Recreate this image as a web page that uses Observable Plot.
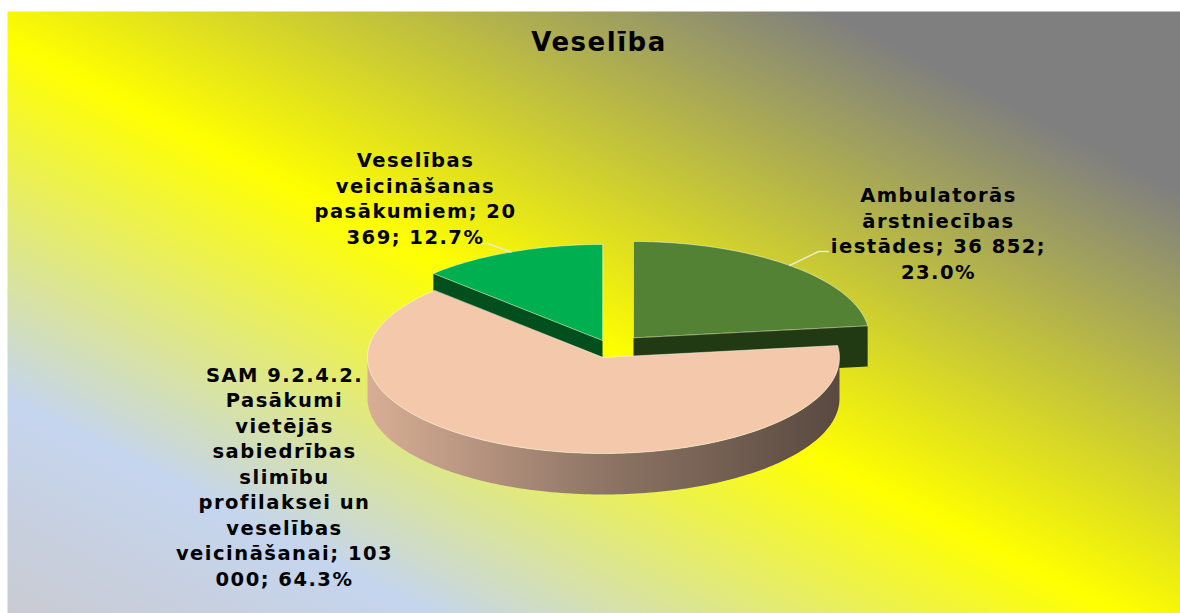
<!DOCTYPE html>
<html><head><meta charset="utf-8">
<script src="https://cdn.jsdelivr.net/npm/d3@7"></script>
<script src="https://cdn.jsdelivr.net/npm/@observablehq/plot@0.6"></script>
<style>
html,body{margin:0;padding:0;background:#fff;}
#chart svg text{letter-spacing:1.5px;}
</style></head><body><div id="chart"></div>
<script>
// ---- data ----
const title = "Veselība";
const categories = [
  "Ambulatorās ārstniecības iestādes",
  "SAM 9.2.4.2. Pasākumi vietējās sabiedrības slimību profilaksei un veselības veicināšanai",
  "Veselības veicināšanas pasākumiem"
];
const values = [36852, 103000, 20369];
const labels = [
  "Ambulatorās\nārstniecības\niestādes; 36 852;\n23.0%",
  "SAM 9.2.4.2.\nPasākumi\nvietējās\nsabiedrības\nslimību\nprofilaksei un\nveselības\nveicināšanai; 103\n000; 64.3%",
  "Veselības\nveicināšanas\npasākumiem; 20\n369; 12.7%"
];
const topColors = ["#548235", "#f4c9ab", "#00b050"];
const sideColors = ["#213a13", "url(#samSide)", "#004f1d"];

// ---- layout (style) ----
const W = 1180, H = 613;
const cx = 603, cy = 357, rx = 236, ry = 96, depth = 41;
const explode = [[30, -20], [0, 0], [-1, -17]];
const labelOffset = [[335, -125], [-319, 118], [-188, -160]]; // label centre relative to pie centre
const leaderTail = [[[215, -106], [225, -106]], null, [[-116, -114], [-124, -114]]];

const pie = d3.pie().sort(null).startAngle(0).endAngle(2 * Math.PI)(values);
const P = (i, a, dz = 0) => ({x: cx + explode[i][0] + rx * Math.sin(a), y: cy + explode[i][1] - ry * Math.cos(a) + dz});
const arcPts = (i, a0, a1, dz = 0) => {
  const n = Math.max(2, Math.ceil((a1 - a0) / 0.02));
  return d3.range(n + 1).map(k => P(i, a0 + (a1 - a0) * k / n, dz));
};

const polys = [];
const order = d3.range(values.length).sort((a, b) =>
  -Math.cos((pie[a].startAngle + pie[a].endAngle) / 2) + Math.cos((pie[b].startAngle + pie[b].endAngle) / 2));
for (const i of order) {
  const {startAngle: a0, endAngle: a1} = pie[i];
  const apex = {x: cx + explode[i][0], y: cy + explode[i][1]};
  const apexB = {x: apex.x, y: apex.y + depth};
  // cut faces
  if (Math.sin(a0) < -1e-6) polys.push({fill: sideColors[i], pts: [apex, P(i, a0), P(i, a0, depth), apexB]});
  if (Math.sin(a1) > 1e-6) polys.push({fill: sideColors[i], pts: [apex, P(i, a1), P(i, a1, depth), apexB]});
  // outer side (front half)
  const s0 = Math.max(a0, Math.PI / 2), s1 = Math.min(a1, 3 * Math.PI / 2);
  if (s1 > s0) polys.push({fill: sideColors[i], pts: [...arcPts(i, s0, s1), ...arcPts(i, s0, s1, depth).reverse()]});
  // top face
  polys.push({fill: topColors[i], stroke: "rgba(255,255,255,0.45)", pts: [apex, ...arcPts(i, a0, a1)]});
}

const labelRows = labels.map((t, i) => ({text: t, x: cx + labelOffset[i][0], y: cy + labelOffset[i][1]}));
const leaders = [];
leaderTail.forEach((tail, i) => {
  if (!tail) return;
  const mid = (pie[i].startAngle + pie[i].endAngle) / 2;
  leaders.push([P(i, mid), ...tail.map(([dx, dy]) => ({x: cx + dx, y: cy + dy}))]);
});

const marks = [
  Plot.frame({fill: "url(#bg)", stroke: "none"}),
  ...polys.map(p => Plot.line(p.pts, {x: "x", y: "y", curve: "linear-closed", fill: p.fill,
    stroke: p.stroke || "none", strokeWidth: 1})),
  ...leaders.map(l => Plot.line(l, {x: "x", y: "y", stroke: "#ecebc4", strokeWidth: 1.5})),
  Plot.text(labelRows, {x: "x", y: "y", text: "text", fontFamily: "DejaVu Sans", fontWeight: "bold",
    fontSize: 19.5, lineHeight: 1.31, fill: "#000", textAnchor: "middle"}),
  Plot.text([title], {frameAnchor: "top", dy: 21, dx: 5, text: d => d, fontFamily: "DejaVu Sans",
    fontWeight: "bold", fontSize: 26, fill: "#000"})
];

const svg = Plot.plot({
  width: W, height: H,
  marginTop: 11, marginLeft: 7, marginRight: 0, marginBottom: 0,
  x: {domain: [7, W], axis: null},
  y: {domain: [H, 11], axis: null},
  style: {background: "transparent"},
  marks
});
svg.insertAdjacentHTML("afterbegin", `<defs>
  <linearGradient id="bg" x1="0" y1="1" x2="1" y2="0">
    <stop offset="0" stop-color="#c9cbd2"/>
    <stop offset="0.18" stop-color="#c5d5ee"/>
    <stop offset="0.475" stop-color="#ffff00"/>
    <stop offset="0.85" stop-color="#7f7f7f"/>
    <stop offset="1" stop-color="#7f7f7f"/>
  </linearGradient>
  <linearGradient id="samSide" x1="0" y1="0" x2="1" y2="0">
    <stop offset="0" stop-color="#d8ae95"/>
    <stop offset="0.5" stop-color="#8e7565"/>
    <stop offset="1" stop-color="#594940"/>
  </linearGradient>
</defs>`);
document.getElementById("chart").appendChild(svg);
</script></body></html>
